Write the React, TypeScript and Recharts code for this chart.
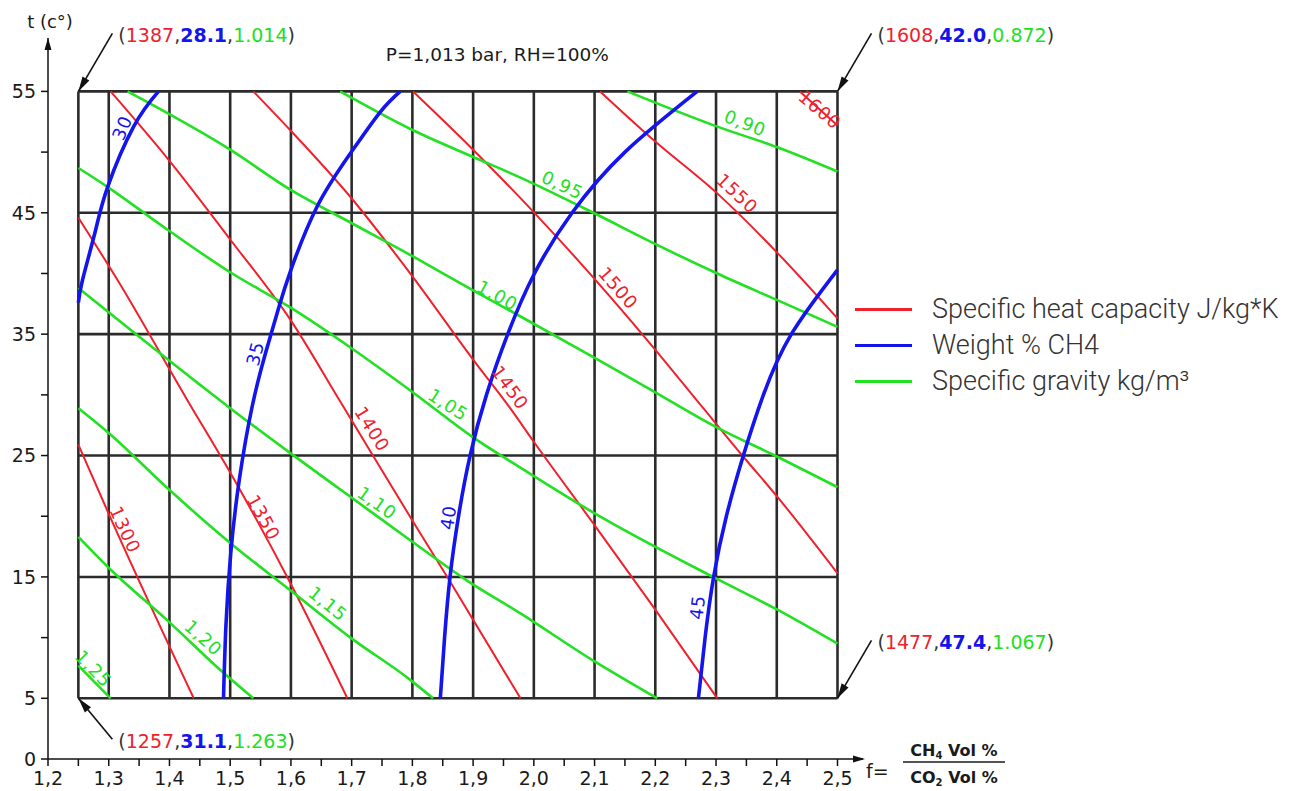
import React from "react";
import { LineChart, Line, XAxis, YAxis, ReferenceLine, ReferenceDot } from "recharts";

type Pt = [number, number];

// axes
const X_TICKS = [1.2, 1.25, 1.3, 1.35, 1.4, 1.45, 1.5, 1.55, 1.6, 1.65, 1.7, 1.75, 1.8, 1.85, 1.9, 1.95, 2.0, 2.05, 2.1, 2.15, 2.2, 2.25, 2.3, 2.35, 2.4, 2.45, 2.5];
const Y_TICKS = [0, 5, 10, 15, 20, 25, 30, 35, 40, 45, 50, 55];
const Y_LABELS = [0, 5, 15, 25, 35, 45, 55];
const GRID_X = [1.25, 1.3, 1.4, 1.5, 1.6, 1.7, 1.8, 1.9, 2.0, 2.1, 2.2, 2.3, 2.4, 2.5];
const GRID_Y = [5, 15, 25, 35, 45, 55];

// specific heat capacity J/kg*K (red)
const CP_1300: Pt[] = [[1.25, 25.9], [1.3, 20.2], [1.44, 5.0]];
const CP_1350: Pt[] = [[1.25, 44.6], [1.314, 39.5], [1.429, 29.6], [1.5, 23.6], [1.599, 14.5], [1.693, 5.0]];
const CP_1400: Pt[] = [[1.303, 55.0], [1.398, 49.4], [1.5, 42.8], [1.599, 36.2], [1.683, 29.3], [1.803, 19.4], [1.861, 14.7], [1.978, 5.0]];
const CP_1450: Pt[] = [[1.538, 55.0], [1.599, 51.8], [1.698, 46.3], [1.801, 39.7], [1.9, 32.9], [1.961, 28.9], [1.999, 26.2], [2.098, 19.4], [2.2, 12.3], [2.302, 5.0]];
const CP_1500: Pt[] = [[1.801, 55.0], [1.9, 50.2], [1.999, 45.1], [2.038, 43.0], [2.197, 33.9], [2.279, 28.9], [2.345, 24.9], [2.401, 21.6], [2.5, 15.3]];
const CP_1550: Pt[] = [[2.109, 55.0], [2.197, 51.0], [2.302, 46.6], [2.401, 41.7], [2.5, 36.3]];
const CP_1600: Pt[] = [[2.438, 55.0], [2.5, 52.2]];

// weight % CH4 (blue)
const WT_30: Pt[] = [[1.25, 37.6], [1.257, 39.5], [1.278, 43.5], [1.298, 47.1], [1.341, 52.1], [1.382, 55.0]];
const WT_35: Pt[] = [[1.489, 5.0], [1.493, 11.0], [1.501, 17.0], [1.515, 23.0], [1.536, 29.0], [1.558, 33.4], [1.58, 37.2], [1.6, 40.3], [1.643, 45.5], [1.698, 49.9], [1.747, 53.3], [1.78, 55.0]];
const WT_40: Pt[] = [[1.846, 5.0], [1.853, 10.0], [1.862, 15.0], [1.876, 20.0], [1.895, 25.0], [1.922, 30.0], [1.957, 35.0], [2.001, 40.0], [2.063, 45.0], [2.15, 50.0], [2.269, 55.0]];
const WT_45: Pt[] = [[2.271, 5.0], [2.282, 10.0], [2.296, 15.0], [2.317, 20.0], [2.345, 25.0], [2.378, 30.0], [2.424, 35.0], [2.5, 40.3]];

// specific gravity kg/m3 (green)
const SG_090: Pt[] = [[2.154, 55.0], [2.302, 52.1], [2.401, 50.4], [2.5, 48.4]];
const SG_095: Pt[] = [[1.681, 55.0], [1.801, 51.8], [1.9, 49.6], [1.978, 47.9], [2.098, 45.0], [2.197, 42.5], [2.302, 40.0], [2.401, 37.8], [2.5, 35.6]];
const SG_100: Pt[] = [[1.331, 55.0], [1.5, 50.2], [1.599, 46.9], [1.698, 44.2], [1.801, 41.4], [1.9, 38.6], [1.973, 36.6], [2.098, 33.1], [2.19, 30.5], [2.302, 27.3], [2.401, 24.9], [2.5, 22.4]];
const SG_105: Pt[] = [[1.25, 48.7], [1.299, 47.1], [1.397, 43.6], [1.5, 40.1], [1.599, 37.2], [1.698, 33.9], [1.801, 30.2], [1.9, 26.5], [1.978, 24.0], [2.098, 20.3], [2.295, 15.0], [2.401, 12.3], [2.5, 9.5]];
const SG_110: Pt[] = [[1.25, 38.8], [1.451, 30.8], [1.5, 28.9], [1.599, 25.2], [1.698, 21.6], [1.797, 18.0], [1.89, 14.7], [1.978, 12.0], [2.098, 8.1], [2.203, 5.0]];
const SG_115: Pt[] = [[1.25, 28.9], [1.299, 26.9], [1.397, 22.3], [1.5, 17.8], [1.599, 13.9], [1.698, 10.0], [1.797, 6.5], [1.834, 5.0]];
const SG_120: Pt[] = [[1.25, 18.3], [1.299, 15.8], [1.397, 11.4], [1.489, 7.1], [1.538, 5.0]];
const SG_125: Pt[] = [[1.25, 7.7], [1.303, 5.0]];

const HEAT = [
  { label: "1300", pts: CP_1300, at: [1.327, 18.9, 65] },
  { label: "1350", pts: CP_1350, at: [1.555, 19.9, 61] },
  { label: "1400", pts: CP_1400, at: [1.734, 27.2, 58] },
  { label: "1450", pts: CP_1450, at: [1.961, 30.6, 54] },
  { label: "1500", pts: CP_1500, at: [2.139, 38.8, 49] },
  { label: "1550", pts: CP_1550, at: [2.335, 46.6, 43] },
  { label: "1600", pts: CP_1600, at: [2.471, 53.5, 40] },
];
const WEIGHT = [
  { label: "30", pts: WT_30, at: [1.322, 52.0, -67] },
  { label: "35", pts: WT_35, at: [1.541, 33.4, -75] },
  { label: "40", pts: WT_40, at: [1.859, 19.9, -81] },
  { label: "45", pts: WT_45, at: [2.269, 12.5, -83] },
];
const GRAVITY = [
  { label: "0,90", pts: SG_090, at: [2.348, 52.4, 21] },
  { label: "0,95", pts: SG_095, at: [2.047, 47.3, 25] },
  { label: "1,00", pts: SG_100, at: [1.94, 38.2, 29] },
  { label: "1,05", pts: SG_105, at: [1.859, 29.2, 33] },
  { label: "1,10", pts: SG_110, at: [1.742, 21.1, 35] },
  { label: "1,15", pts: SG_115, at: [1.661, 12.8, 39] },
  { label: "1,20", pts: SG_120, at: [1.456, 10.0, 42] },
  { label: "1,25", pts: SG_125, at: [1.275, 7.45, 46] },
];

// corner values (heat, weight, gravity)
const CORNERS = [
  { x: 1.25, y: 55, heat: "1387", weight: "28.1", gravity: "1.014", below: false },
  { x: 2.5, y: 55, heat: "1608", weight: "42.0", gravity: "0.872", below: false },
  { x: 2.5, y: 5, heat: "1477", weight: "47.4", gravity: "1.067", below: false },
  { x: 1.25, y: 5, heat: "1257", weight: "31.1", gravity: "1.263", below: true },
];

const FONT = "'DejaVu Sans', Verdana, sans-serif";
const RED = "#f0202c";
const BLUE = "#1414ee";
const GREEN = "#22e022";
const GRID = "#2b2b2b";
const INK = "#1a1a1a";

const rows = (pts: Pt[]) => pts.map(([x, y]) => ({ x, y }));

function head(x1: number, y1: number, x2: number, y2: number, len = 14, half = 3.8) {
  const d = Math.hypot(x2 - x1, y2 - y1) || 1;
  const ux = (x2 - x1) / d, uy = (y2 - y1) / d;
  const bx = x2 - ux * len, by = y2 - uy * len;
  const pts = `${x2},${y2} ${bx - uy * half},${by + ux * half} ${bx + uy * half},${by - ux * half}`;
  return <polygon points={pts} fill="#111" />;
}

const rotText = (text: string, color: string, angle: number) => (p: any) => (
  <text
    x={p.cx}
    y={p.cy}
    transform={`rotate(${angle} ${p.cx} ${p.cy})`}
    textAnchor="middle"
    dominantBaseline="central"
    fill={color}
    fontSize={18}
    letterSpacing={0.8}
    fontFamily={FONT}
  >
    {text}
  </text>
);

const callout = (c: (typeof CORNERS)[number]) => (p: any) => {
  const { cx, cy } = p;
  const sx = cx + 34;
  const sy = cy + (c.below ? 41 : -58);
  const ty = cy + (c.below ? 50 : -49);
  return (
    <g>
      <line x1={sx} y1={sy} x2={cx} y2={cy} stroke="#111" strokeWidth={1.6} />
      {head(sx, sy, cx, cy, 15, 4)}
      <text x={cx + 40} y={ty} fontSize={19} fontFamily={FONT} fill="#333">
        (<tspan fill={RED}>{c.heat}</tspan>,<tspan fill={BLUE} fontWeight="bold">{c.weight}</tspan>,
        <tspan fill={GREEN}>{c.gravity}</tspan>)
      </text>
    </g>
  );
};

const yArrow = (p: any) => (
  <g>
    {head(p.cx, p.cy + 20, p.cx, p.cy, 12, 3.5)}
    <text x={p.cx + 2} y={p.cy - 10} textAnchor="middle" fontSize={18} fontFamily={FONT} fill={INK}>
      t (c°)
    </text>
  </g>
);

const xArrow = (p: any) => {
  const { cx, cy } = p;
  return (
    <g fontFamily={FONT} fill={INK}>
      {head(cx - 20, cy, cx + 2, cy, 12, 3.5)}
      <text x={cx + 3} y={cy + 19} fontSize={19}>f=</text>
      <text x={cx + 91} y={cy - 3} fontSize={16} fontWeight="bold" textAnchor="middle">
        CH<tspan fontSize={10} dy={3}>4</tspan>
        <tspan dy={-3}> Vol %</tspan>
      </text>
      <line x1={cx + 40} x2={cx + 142} y1={cy + 3} y2={cy + 3} stroke={INK} strokeWidth={1.4} />
      <text x={cx + 91} y={cy + 24} fontSize={16} fontWeight="bold" textAnchor="middle">
        CO<tspan fontSize={10} dy={3}>2</tspan>
        <tspan dy={-3}> Vol %</tspan>
      </text>
    </g>
  );
};

const title = (p: any) => (
  <text x={p.cx} y={p.cy} textAnchor="middle" fontSize={18.5} fontFamily={FONT} fill={INK}>
    P=1,013 bar, RH=100%
  </text>
);

const fmtX = (v: number) => (Math.round(v * 100) % 10 === 0 ? v.toFixed(1).replace(".", ",") : "");
const fmtY = (v: number) => (Y_LABELS.includes(v) ? String(v) : "");

const LEGEND = [
  { color: RED, text: "Specific heat capacity J/kg*K" },
  { color: BLUE, text: "Weight % CH4" },
  { color: GREEN, text: "Specific gravity kg/m³" },
];

export default function App() {
  return (
    <div style={{ position: "fixed", left: 0, top: 0, width: 1299, height: 791, background: "#fff" }}>
      <LineChart width={1299} height={791} margin={{ top: 38, right: 436, bottom: 0, left: 0 }}>
        <XAxis
          type="number"
          dataKey="x"
          domain={[1.2, 2.542]}
          ticks={X_TICKS}
          interval={0}
          tickFormatter={fmtX}
          height={32}
          tickSize={7}
          tickMargin={6}
          axisLine={{ stroke: "#111", strokeWidth: 1.5 }}
          tickLine={{ stroke: "#111", strokeWidth: 1.5 }}
          tick={{ fontSize: 19, fill: INK, fontFamily: FONT }}
          allowDataOverflow
        />
        <YAxis
          type="number"
          dataKey="y"
          domain={[0, 59.4]}
          ticks={Y_TICKS}
          interval={0}
          tickFormatter={fmtY}
          width={48}
          tickSize={7}
          tickMargin={5}
          axisLine={{ stroke: "#111", strokeWidth: 1.5 }}
          tickLine={{ stroke: "#111", strokeWidth: 1.5 }}
          tick={{ fontSize: 19, fill: INK, fontFamily: FONT }}
          allowDataOverflow
        />

        {GRID_X.map((v) => (
          <ReferenceLine key={`gx${v}`} segment={[{ x: v, y: 5 }, { x: v, y: 55 }]} stroke={GRID} strokeWidth={2.6} />
        ))}
        {GRID_Y.map((v) => (
          <ReferenceLine key={`gy${v}`} segment={[{ x: 1.25, y: v }, { x: 2.5, y: v }]} stroke={GRID} strokeWidth={2.6} />
        ))}

        {HEAT.map((s) => (
          <Line key={`h${s.label}`} data={rows(s.pts)} dataKey="y" type="monotone" stroke={RED} strokeWidth={2}
            dot={false} isAnimationActive={false} />
        ))}
        {GRAVITY.map((s) => (
          <Line key={`g${s.label}`} data={rows(s.pts)} dataKey="y" type="monotone" stroke={GREEN} strokeWidth={2.6}
            dot={false} isAnimationActive={false} />
        ))}
        {WEIGHT.map((s) => (
          <Line key={`w${s.label}`} data={rows(s.pts)} dataKey="y" type="natural" stroke={BLUE} strokeWidth={3.6}
            dot={false} isAnimationActive={false} />
        ))}

        {HEAT.map((s) => (
          <ReferenceDot key={`hl${s.label}`} x={s.at[0]} y={s.at[1]} shape={rotText(s.label, RED, s.at[2])} />
        ))}
        {GRAVITY.map((s) => (
          <ReferenceDot key={`gl${s.label}`} x={s.at[0]} y={s.at[1]} shape={rotText(s.label, GREEN, s.at[2])} />
        ))}
        {WEIGHT.map((s) => (
          <ReferenceDot key={`wl${s.label}`} x={s.at[0]} y={s.at[1]} shape={rotText(s.label, BLUE, s.at[2])} />
        ))}

        {CORNERS.map((c) => (
          <ReferenceDot key={`c${c.heat}`} x={c.x} y={c.y} shape={callout(c)} />
        ))}
        <ReferenceDot x={1.94} y={57.5} shape={title} />
        <ReferenceDot x={1.2} y={59.4} shape={yArrow} />
        <ReferenceDot x={2.542} y={0} shape={xArrow} />
      </LineChart>

      <div style={{ position: "absolute", left: 855, top: 291, fontFamily: "Roboto, 'Open Sans', sans-serif", fontWeight: 300 }}>
        {LEGEND.map((l) => (
          <div key={l.text} style={{ display: "flex", alignItems: "center", height: 36 }}>
            <div style={{ width: 57, height: 3, background: l.color, marginRight: 20 }} />
            <span style={{ fontSize: 27, color: "#333", whiteSpace: "nowrap" }}>{l.text}</span>
          </div>
        ))}
      </div>
    </div>
  );
}
